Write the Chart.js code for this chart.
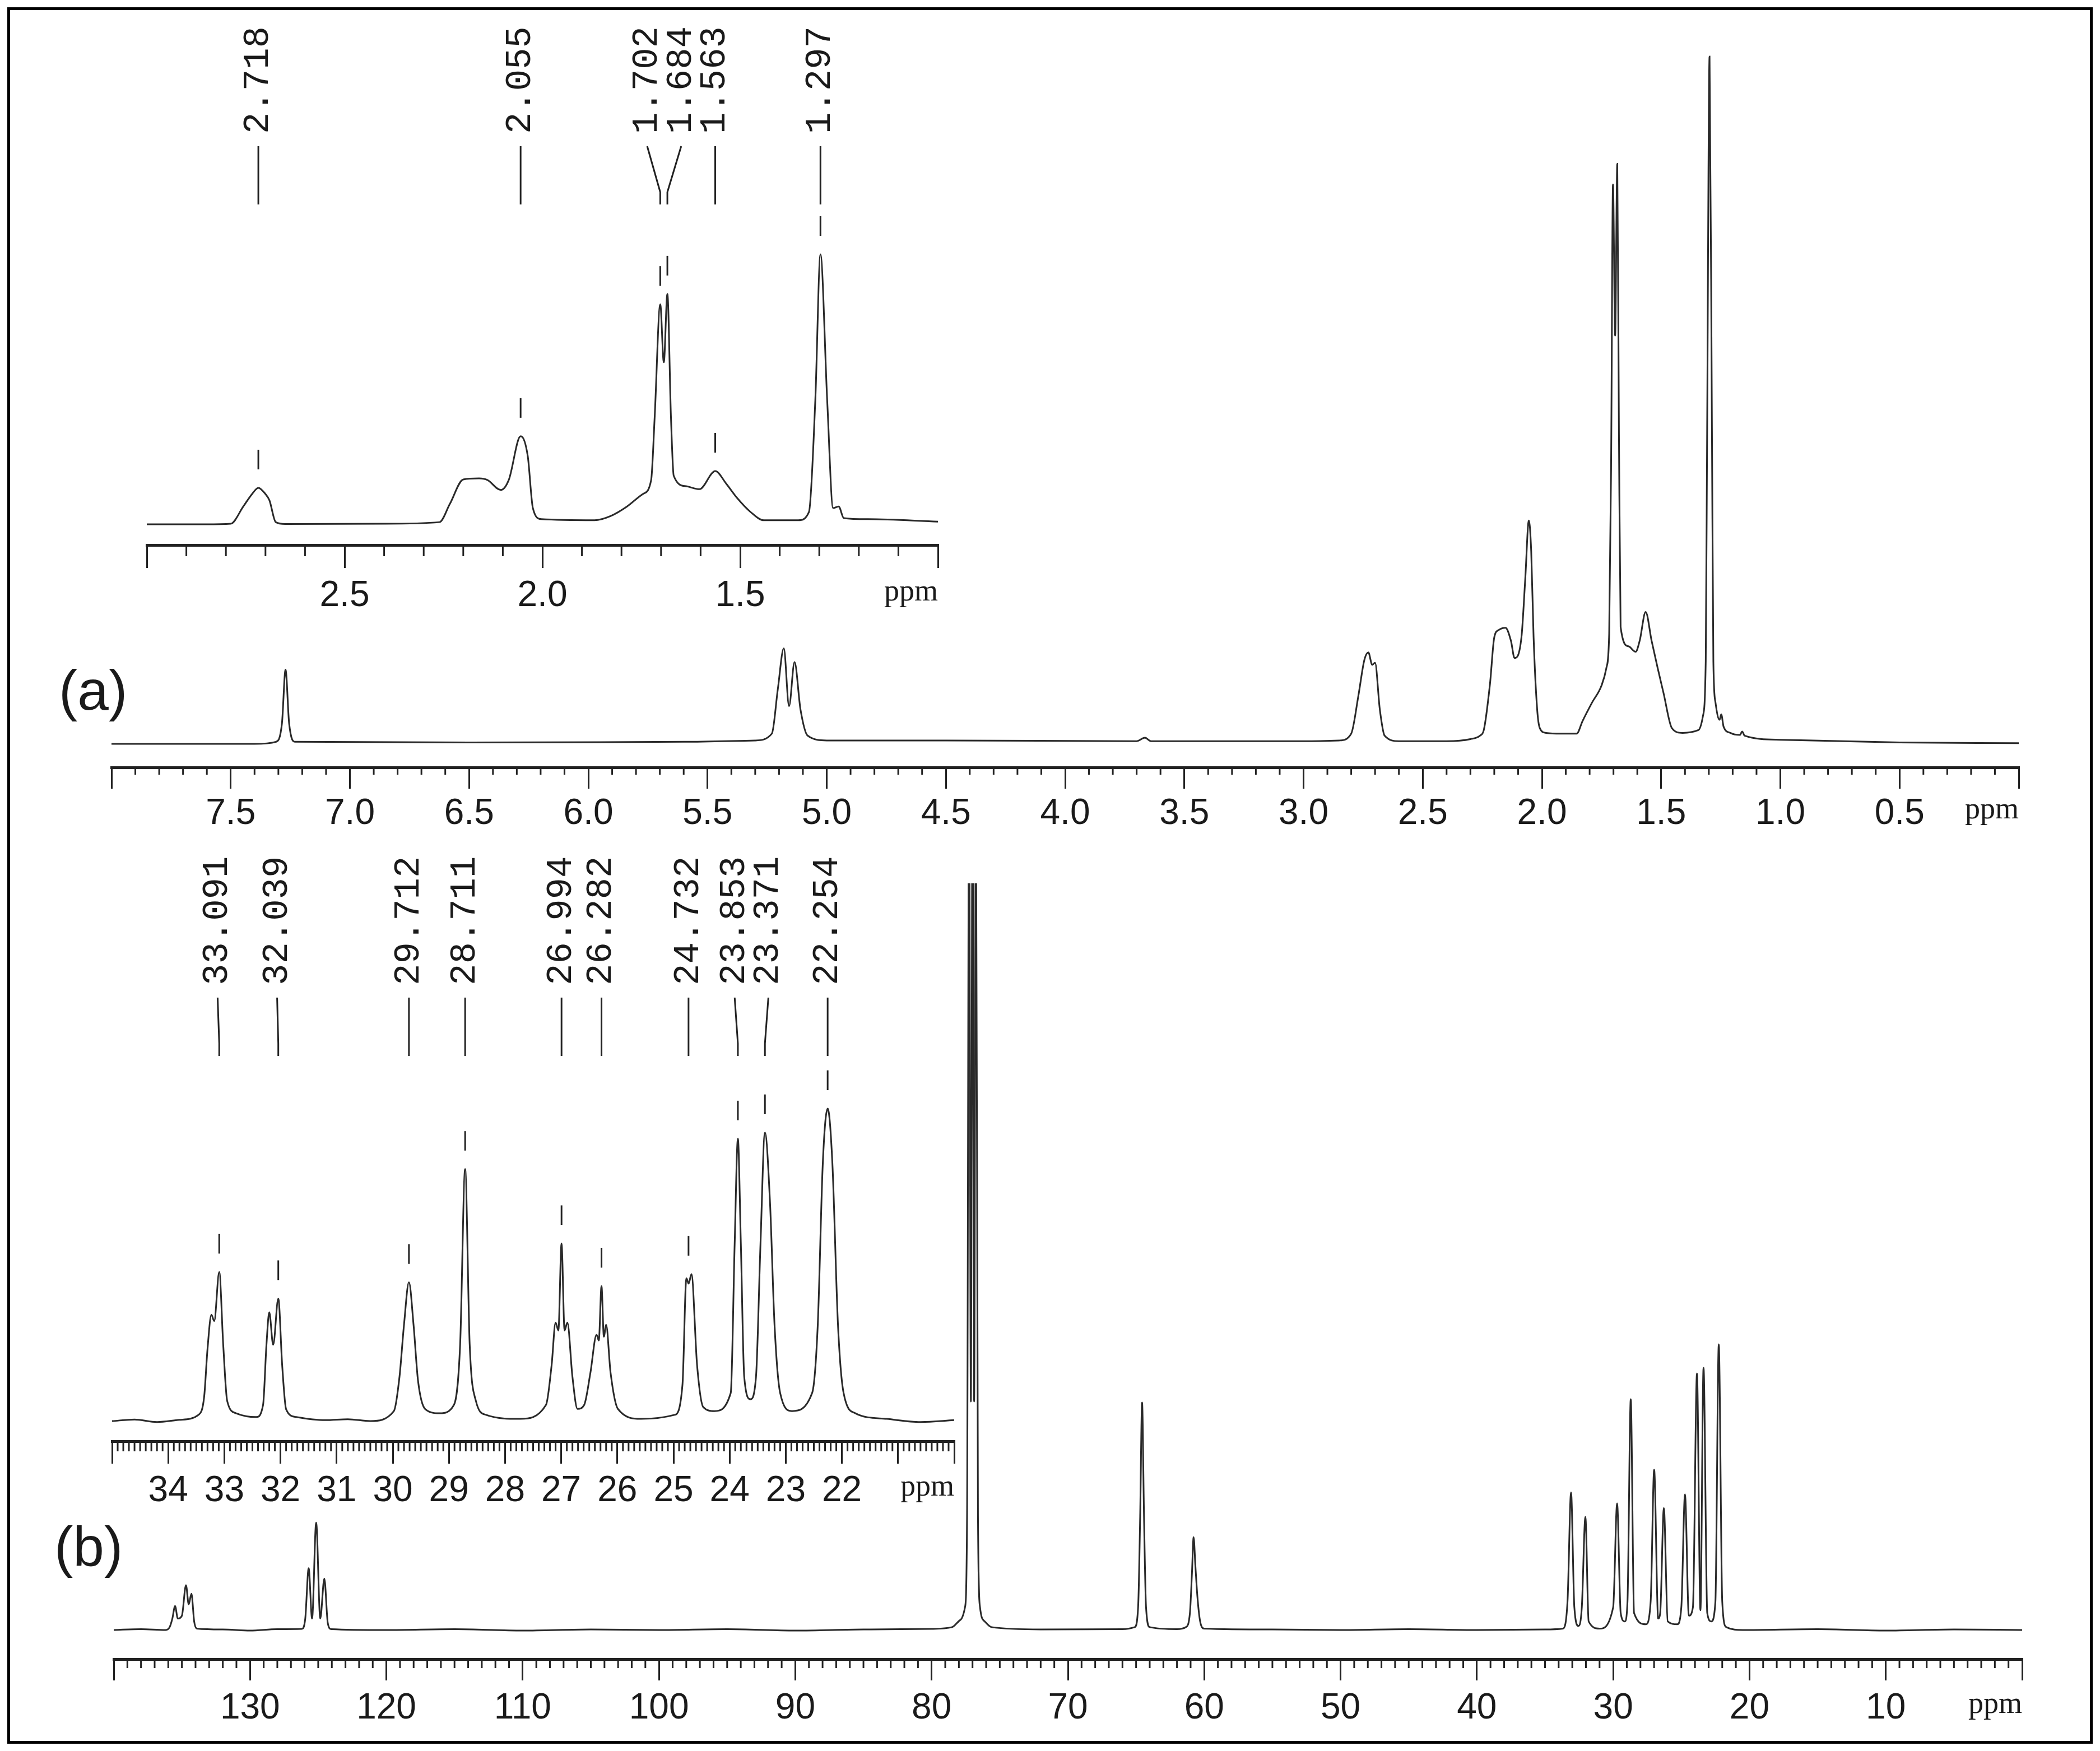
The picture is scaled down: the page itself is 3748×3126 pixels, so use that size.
<!DOCTYPE html>
<html>
<head>
<meta charset="utf-8">
<script src="https://cdn.jsdelivr.net/npm/chart.js@4.4.1/dist/chart.umd.min.js"></script>
<style>
  html, body { margin: 0; padding: 0; background: #fff; }
  #page { position: relative; width: 3748px; height: 3126px; overflow: hidden; background: #fff; }
  #page canvas { position: absolute; }
  .frame { position: absolute; left: 13px; top: 13px; width: 3712px; height: 3090px; border: 5px solid #000; }
  .tag { position: absolute; font-family: 'Liberation Sans Narrow', 'Liberation Sans', sans-serif; font-size: 100px; line-height: 1; color: #1a1a1a; }
</style>
</head>
<body>
<div id="page">
  <div class="frame"></div>
  <canvas id="h1Main" width="3444" height="1432" style="left:179px;top:78px"></canvas>
  <canvas id="c13Main" width="3446" height="1535" style="left:183px;top:1567px"></canvas>
  <canvas id="h1Zoom" width="1452" height="1093" style="left:242px;top:20px"></canvas>
  <canvas id="c13Zoom" width="1543" height="1213" style="left:180px;top:1500px"></canvas>
  <div class="tag" style="left:105px;top:1182px">(a)</div>
  <div class="tag" style="left:97px;top:2711px">(b)</div>
</div>
<script>
// ---- data: [ppm, relative intensity] ----

// (a) 1H, full range, 100 = tallest line (1.297)
const h1Spectrum = [
  [8.00, 0], [7.40, 0], [7.31, 0.3], [7.285, 3], [7.27, 10.8], [7.255, 3], [7.23, 0.3],
  [6.50, 0.2], [5.60, 0.3], [5.30, 0.5], [5.23, 1.5], [5.205, 8], [5.18, 13.9], [5.158, 5.5],
  [5.135, 11.9], [5.11, 5], [5.08, 1.2], [5.00, 0.5], [4.50, 0.5], [3.70, 0.4], [3.665, 0.9],
  [3.64, 0.4], [3.00, 0.4], [2.85, 0.5], [2.80, 1.5], [2.77, 7], [2.745, 12.2], [2.728, 13.3],
  [2.712, 11.5], [2.700, 11.8], [2.68, 5], [2.66, 1.2], [2.60, 0.4], [2.40, 0.4], [2.30, 0.7],
  [2.26, 1.2], [2.244, 2], [2.218, 8.7], [2.20, 15.5], [2.18, 16.6], [2.153, 16.9], [2.13, 15],
  [2.115, 12.5], [2.086, 15.5], [2.07, 24], [2.055, 32.5], [2.045, 28], [2.035, 15.5], [2.02, 5],
  [2.009, 2.3], [1.983, 1.6], [1.92, 1.5], [1.854, 1.5], [1.83, 3.3], [1.79, 6], [1.75, 8.5],
  [1.73, 11], [1.718, 16], [1.710, 40], [1.702, 81.4], [1.693, 59.4], [1.684, 84.4], [1.677, 45],
  [1.670, 17], [1.637, 14.2], [1.607, 13.4], [1.59, 15], [1.565, 19.2], [1.54, 15], [1.515, 11.1],
  [1.49, 7.4], [1.455, 2.3], [1.41, 1.6], [1.344, 2], [1.325, 4], [1.313, 12], [1.307, 46],
  [1.297, 100], [1.287, 46], [1.281, 12], [1.272, 6], [1.255, 3.5], [1.248, 4.3], [1.238, 2.5],
  [1.21, 1.6], [1.17, 1.3], [1.16, 1.8], [1.15, 1.2], [1.00, 0.6], [0.50, 0.2], [0.00, 0.1]
];

// (a) inset, 3.0 - 1.0 ppm
const h1ZoomSpectrum = [
  [3.00, 0], [2.85, 0], [2.788, 0.2], [2.756, 6.6], [2.735, 11], [2.718, 13.5], [2.70, 11.2],
  [2.69, 8.9], [2.674, 0.8], [2.65, 0.1], [2.40, 0.2], [2.26, 0.8], [2.234, 7.5], [2.20, 16.6],
  [2.16, 17], [2.139, 16.4], [2.105, 12.7], [2.085, 16.4], [2.055, 32.6], [2.037, 25.3],
  [2.024, 6], [2.003, 1.9], [1.868, 1.5], [1.827, 3.1], [1.786, 6.6], [1.746, 11.2], [1.725, 16.4],
  [1.716, 40], [1.702, 81.5], [1.693, 60], [1.684, 85.3], [1.675, 40], [1.668, 18], [1.637, 14.1],
  [1.603, 13], [1.563, 19.7], [1.535, 15], [1.508, 9.8], [1.474, 4.6], [1.44, 1.5], [1.353, 1.5],
  [1.326, 4.6], [1.31, 46], [1.297, 100], [1.28, 46], [1.265, 6], [1.251, 6.6], [1.238, 2.3],
  [1.177, 1.9], [1.00, 1.0]
];
const h1Peaks = [2.718, 2.055, 1.702, 1.684, 1.563, 1.297];
const h1PeakTops = [13.5, 32.6, 81.5, 85.3, 19.7, 100];
const h1LabelAt = [2.718, 2.055, 1.735, 1.649, 1.563, 1.297];

// (b) 13C, full range, 100 = 22.254 line (solvent triplet runs off scale)
const c13Spectrum = [
  [140, 0], [138, 0.3], [136.2, 0], [135.9, 1], [135.7, 4], [135.5, 8.4], [135.3, 4], [135.0, 5],
  [134.7, 15.7], [134.5, 9], [134.3, 12.7], [134.1, 3], [133.9, 0.5], [132, 0.2], [130, -0.2],
  [128, 0.3], [126.2, 0.4], [125.95, 4], [125.7, 21.6], [125.45, 4], [125.15, 37.6], [124.85, 4],
  [124.55, 18], [124.3, 2.5], [124.05, 0.3], [120, 0], [115, 0.3], [110, -0.2], [105, 0.2],
  [100, 0], [95, 0.3], [90, -0.2], [85, 0.2], [80, 0.4], [78.5, 1], [77.9, 3.5], [77.55, 8],
  [77.4, 40], [77.25, 300], [77.12, 80], [77.0, 300], [76.88, 80], [76.75, 300], [76.6, 40],
  [76.45, 8], [76.1, 3], [75.6, 1], [72, 0.2], [66, 0.3], [65.1, 1], [64.85, 8], [64.7, 40],
  [64.56, 79.6], [64.42, 40], [64.27, 8], [64.0, 1], [62, 0.3], [61.35, 1], [61.05, 6], [60.9, 20],
  [60.78, 32.5], [60.65, 22.5], [60.5, 11.6], [60.3, 3], [60.0, 0.5], [55, 0.2], [50, 0],
  [45, 0.3], [40, 0], [35, 0.2], [33.7, 0.5], [33.35, 10], [33.091, 48.2], [32.85, 8],
  [32.55, 1.4], [32.3, 8], [32.039, 39.6], [31.8, 3], [31.0, 0.5], [30.0, 8], [29.712, 44.3],
  [29.45, 6], [29.15, 3], [28.95, 10], [28.711, 80.8], [28.47, 6], [27.6, 2], [27.25, 10],
  [26.994, 56.1], [26.7, 4], [26.55, 6], [26.282, 42.7], [26.0, 3], [25.3, 2], [25.0, 8],
  [24.732, 47.5], [24.45, 5], [24.15, 8], [23.853, 89.8], [23.6, 6.9], [23.371, 91.8], [23.1, 6],
  [22.8, 3], [22.5, 10], [22.254, 100], [22.0, 10], [21.7, 1], [20.5, 0], [15, 0.3], [10, -0.2],
  [5, 0.2], [0, 0]
];

// (b) inset, 35 - 20 ppm
const c13ZoomSpectrum = [
  [35.0, 0], [34.6, 0.5], [34.2, -0.3], [33.8, 0.4], [33.46, 2], [33.36, 7.7], [33.30, 23],
  [33.23, 34], [33.18, 32], [33.091, 47.7], [33.02, 24.4], [32.95, 6.5], [32.79, 2.5], [32.43, 1.3],
  [32.31, 5.2], [32.25, 24.4], [32.20, 34.8], [32.13, 24.4], [32.039, 39.2], [31.97, 17.9],
  [31.90, 3.8], [31.72, 1.3], [31.2, 0.3], [30.8, 0.6], [30.4, 0], [29.98, 3.2], [29.88, 14.2],
  [29.80, 30.8], [29.712, 44.4], [29.63, 30.8], [29.55, 12.9], [29.42, 3.8], [29.16, 2.5],
  [28.91, 5.2], [28.80, 24.5], [28.711, 80.6], [28.63, 24.5], [28.52, 6.5], [28.34, 2], [27.73, 0.7],
  [27.27, 5.2], [27.17, 18], [27.10, 31.5], [27.05, 29], [26.994, 56.8], [26.94, 29], [26.89, 31.5],
  [26.80, 14.2], [26.71, 3.9], [26.59, 5.2], [26.48, 15.4], [26.37, 27.6], [26.33, 25.8],
  [26.282, 43.2], [26.24, 27], [26.20, 30.8], [26.12, 15.4], [25.99, 3.9], [25.58, 0.7], [24.98, 2],
  [24.84, 11.6], [24.77, 45.7], [24.73, 44], [24.68, 47], [24.58, 18], [24.47, 4.5], [24.27, 3.2],
  [23.98, 9], [23.91, 56.8], [23.853, 90.3], [23.80, 56.8], [23.74, 14.2], [23.63, 7], [23.53, 14.2],
  [23.45, 56.8], [23.371, 92.3], [23.28, 69.7], [23.20, 30.8], [23.10, 9], [22.89, 3.2], [22.53, 9],
  [22.43, 30.8], [22.34, 82.6], [22.254, 100], [22.17, 82.6], [22.07, 30.8], [21.97, 9], [21.76, 2.5],
  [21.2, 0.7], [20.6, -0.3], [20.0, 0.3]
];
const c13Peaks = [33.091, 32.039, 29.712, 28.711, 26.994, 26.282, 24.732, 23.853, 23.371, 22.254];
const c13PeakTops = [47.7, 39.2, 44.4, 80.6, 56.8, 43.2, 47, 90.3, 92.3, 100];
const c13LabelAt = [33.12, 32.06, 29.712, 28.711, 26.994, 26.282, 24.732, 23.91, 23.31, 22.254];

// ---- drawing ----
const INK = '#222';
Chart.defaults.font.family = "'Liberation Sans', Arial, sans-serif";

// short ticks between the labelled ones, plus the "ppm" unit at the axis end
const axisExtras = {
  id: 'axisExtras',
  afterDraw(chart, args, o) {
    const sx = chart.scales.x, ctx = chart.ctx;
    const y0 = chart.chartArea.bottom;
    const n0 = Math.round(sx.min / o.step), n1 = Math.round(sx.max / o.step);
    ctx.save();
    ctx.strokeStyle = INK;
    ctx.lineWidth = 3;
    ctx.beginPath();
    for (let k = n0; k <= n1; k++) {
      if (k % o.every === 0) continue;
      const px = sx.getPixelForValue(k * o.step);
      ctx.moveTo(px, y0);
      ctx.lineTo(px, y0 + o.len);
    }
    ctx.stroke();
    ctx.fillStyle = '#1a1a1a';
    ctx.font = "54px 'Liberation Serif', 'Times New Roman', serif";
    ctx.textAlign = 'right';
    ctx.textBaseline = 'middle';
    ctx.fillText('ppm', chart.chartArea.right, y0 + o.unitY);
    ctx.restore();
  }
};

// shift labels above the insets
const peakLabels = {
  id: 'peakLabels',
  afterDraw(chart, args, o) {
    if (!o.peaks) return;
    const sx = chart.scales.x, sy = chart.scales.y, ctx = chart.ctx;
    const top = chart.chartArea.top;
    const lineTop = top - 179, kink = top - 97, lineBot = top - 75;
    ctx.save();
    ctx.strokeStyle = INK;
    ctx.fillStyle = '#1a1a1a';
    ctx.lineWidth = 3;
    ctx.font = "64px 'Liberation Mono', 'DejaVu Sans Mono', monospace";
    o.peaks.forEach((p, i) => {
      const xp = sx.getPixelForValue(p);
      const xl = sx.getPixelForValue(o.labelAt[i]);
      ctx.beginPath();
      ctx.moveTo(xl, lineTop);
      ctx.lineTo(xp, kink);
      ctx.lineTo(xp, lineBot);
      ctx.stroke();
      const yt = sy.getPixelForValue(o.tops[i]);
      ctx.beginPath();
      ctx.moveTo(xp, yt - 68);
      ctx.lineTo(xp, yt - 33);
      ctx.stroke();
      ctx.save();
      ctx.translate(xl, lineTop - 22);
      ctx.rotate(-Math.PI / 2);
      ctx.textAlign = 'left';
      ctx.textBaseline = 'middle';
      ctx.fillText(p.toFixed(3), 0, 0);
      ctx.restore();
    });
    ctx.restore();
  }
};

function spectrum(id, points, c) {
  const ctx = document.getElementById(id).getContext('2d');
  return new Chart(ctx, {
    type: 'line',
    data: {
      datasets: [{
        data: points.map(p => ({ x: p[0], y: p[1] })),
        borderColor: '#2a2a2a',
        borderWidth: 3,
        pointRadius: 0,
        cubicInterpolationMode: 'monotone',
        fill: false
      }]
    },
    options: {
      responsive: false,
      animation: false,
      devicePixelRatio: 1,
      events: [],
      layout: { padding: { left: 20, right: 20, top: c.padTop, bottom: 0 } },
      plugins: {
        legend: { display: false },
        tooltip: { enabled: false },
        axisExtras: { step: c.minorStep, every: c.minorEvery, len: c.minorLen, unitY: c.majorLen + c.labelPad + 32 },
        peakLabels: c.peaks || {}
      },
      scales: {
        x: {
          type: 'linear',
          min: c.min,
          max: c.max,
          reverse: true,
          afterFit: s => { s.height = 140; },
          grid: { drawOnChartArea: false, drawTicks: true, tickLength: c.majorLen, tickWidth: 3, lineWidth: 3, tickColor: INK, color: INK },
          border: { display: true, width: 5, color: INK },
          ticks: {
            stepSize: c.step,
            autoSkip: false,
            maxRotation: 0,
            minRotation: 0,
            padding: c.labelPad,
            color: '#1a1a1a',
            font: { family: c.labelFamily, size: 64 },
            callback: v => c.label(v)
          }
        },
        y: { display: false, min: c.yMin, max: c.yMax }
      }
    },
    plugins: [axisExtras, peakLabels]
  });
}

const sansFamily = "'Liberation Sans', Arial, sans-serif";
const narrowFamily = "'Liberation Sans Narrow', 'Liberation Sans', Arial, sans-serif";

spectrum('h1Main', h1Spectrum, {
  min: 0, max: 8, step: 0.5, minorStep: 0.1, minorEvery: 5, majorLen: 38, minorLen: 13,
  labelPad: 7, padTop: 10, yMin: -3.42, yMax: 101.06, labelFamily: sansFamily,
  label: v => (v === 0 || v === 8) ? '' : v.toFixed(1)
});

spectrum('c13Main', c13Spectrum, {
  min: 0, max: 140, step: 10, minorStep: 1, minorEvery: 10, majorLen: 38, minorLen: 16,
  labelPad: 12, padTop: 10, yMin: -10.2, yMax: 261.4, labelFamily: narrowFamily,
  label: v => (v === 0 || v === 140) ? '' : String(v)
});

spectrum('h1Zoom', h1ZoomSpectrum, {
  min: 1, max: 3, step: 0.5, minorStep: 0.1, minorEvery: 5, majorLen: 41, minorLen: 20,
  labelPad: 12, padTop: 420, yMin: -7.68, yMax: 102.9, labelFamily: sansFamily,
  label: v => (v === 1 || v === 3) ? '' : v.toFixed(1),
  peaks: { peaks: h1Peaks, tops: h1PeakTops, labelAt: h1LabelAt }
});

spectrum('c13Zoom', c13ZoomSpectrum, {
  min: 20, max: 35, step: 1, minorStep: 0.1, minorEvery: 10, majorLen: 40, minorLen: 18,
  labelPad: 11, padTop: 460, yMin: -6.45, yMax: 103.4, labelFamily: narrowFamily,
  label: v => (v === 20 || v === 21 || v === 35) ? '' : String(v),
  peaks: { peaks: c13Peaks, tops: c13PeakTops, labelAt: c13LabelAt }
});
</script>
</body>
</html>
